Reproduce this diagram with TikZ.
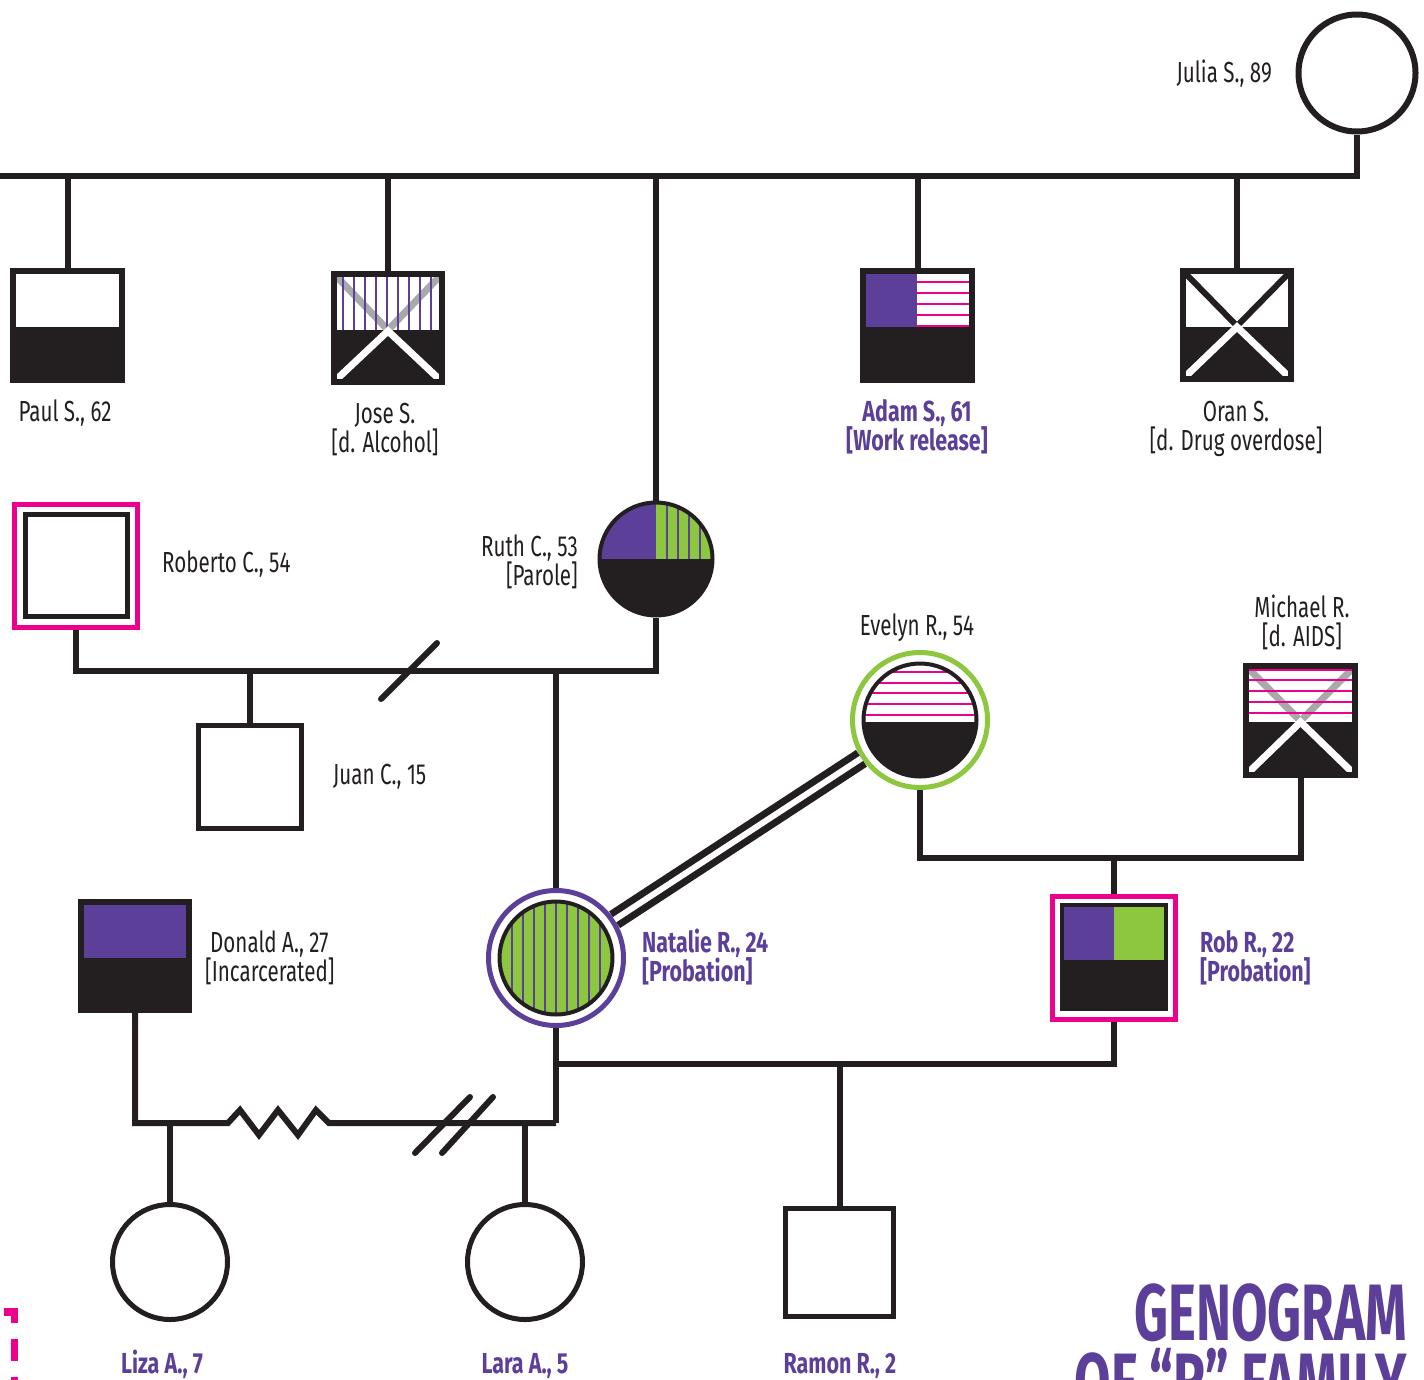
\documentclass[tikz,border=0pt]{standalone}
\usepackage{fontspec}
\setmainfont{Fira Sans}[FakeStretch=0.71, BoldFeatures={FakeStretch=0.74}]
\newfontfamily\titlefont{Fira Sans}[FakeStretch=0.66]
\usetikzlibrary{calc}
\definecolor{gpurple}{HTML}{5B3F99}
\definecolor{ggreen}{HTML}{8DC63F}
\definecolor{gpink}{HTML}{EC008C}
\definecolor{gblack}{HTML}{231F20}
\definecolor{ggrey}{HTML}{A7A9AC}
\begin{document}
\begin{tikzpicture}[x=1pt,y=-1pt,
  link/.style={draw=gblack, line width=6pt},
  sq/.style={rectangle, draw=gblack, line width=6pt, inner sep=0pt, minimum size=109pt},
  thinsq/.style={rectangle, draw=gblack, line width=5pt, inner sep=0pt},
  pinksq/.style={rectangle, draw=gpink, line width=5pt, inner sep=0pt, minimum size=123pt},
  circ/.style={circle, draw=gblack, line width=5pt, inner sep=0pt},
  ring/.style={circle, line width=5pt, inner sep=0pt, minimum size=135pt},
  lbl/.style={font=\fontsize{29}{29}\selectfont, text=gblack, inner sep=0pt},
  plbl/.style={font=\fontsize{29}{29}\selectfont\bfseries, text=gpurple, inner sep=0pt},
  ttl/.style={anchor=base east, inner sep=0pt, text=gpurple, font=\titlefont\fontsize{80}{80}\selectfont\bfseries},
  hatch/.style={line width=2.5pt},
  xline/.style={line width=7pt},
]
\useasboundingbox (0,0) rectangle (1424,1379);
\clip (0,0) rectangle (1424,1379);

% ---------- contents of symbols ----------
% Paul
\fill[gblack] (13,327) rectangle (122,379);
% Jose
\begin{scope}
  \clip (334,274) rectangle (442,330);
  \draw[ggrey, xline] (337,277) -- (388,330) -- (439,277);
  \foreach \x in {343,354,...,432} \draw[gpurple, hatch] (\x,274) -- (\x,330);
\end{scope}
\fill[gblack] (334,330) rectangle (442,382);
\draw[white, xline, line cap=round] (337,379) -- (388,331) -- (439,379);
% Adam
\fill[gpurple] (863,271) rectangle (917,327);
\foreach \y in {282,293,304,315,326} \draw[gpink, hatch] (917,\y) -- (972,\y);
\fill[gblack] (863,327) rectangle (972,380);
% Oran
\begin{scope}
  \clip (1183,271) rectangle (1291,327);
  \draw[gblack, line width=6pt] (1186,274) -- (1237,326) -- (1288,274);
\end{scope}
\fill[gblack] (1183,327) rectangle (1291,379);
\draw[white, xline, line cap=round] (1187,375) -- (1237,327) -- (1287,375);
% Ruth
\begin{scope}
  \clip (656,559) circle (56.5);
  \fill[gpurple] (598,500) rectangle (656,559);
  \fill[ggreen] (656,500) rectangle (716,559);
  \foreach \x in {667,678,689,700} \draw[gpurple, hatch] (\x,500) -- (\x,559);
  \fill[gblack] (598,559) rectangle (716,618);
\end{scope}
% Evelyn
\begin{scope}
  \clip (920,720) circle (56.5);
  \foreach \y in {672,683,693,704,715} \draw[gpink, hatch] (860,\y) -- (980,\y);
  \fill[gblack] (860,722) rectangle (980,780);
\end{scope}
\draw[gblack, line width=4pt] (920,720) circle (56.5);
% Michael
\begin{scope}
  \clip (1246,666) rectangle (1355,722);
  \draw[ggrey, xline] (1249,669) -- (1300.5,721) -- (1352,669);
  \foreach \y in {669.5,680,691,702,713} \draw[gpink, hatch] (1246,\y) -- (1355,\y);
\end{scope}
\fill[gblack] (1246,722) rectangle (1355,775);
\draw[white, xline, line cap=round] (1250,771) -- (1300.5,722) -- (1351,771);
% Roberto inner
\draw[gblack, line width=4.5pt] (25.5,514.5) rectangle (127.5,616.5);
% Natalie
\begin{scope}
  \clip (556,958) circle (56.5);
  \fill[ggreen] (496,898) rectangle (616,1018);
  \foreach \x in {512,523,534,545,556,567,578,589,600} \draw[gpurple, hatch] (\x,898) -- (\x,1018);
\end{scope}
\draw[gblack, line width=4pt] (556,958) circle (56.5);
% Rob
\fill[gpurple] (1062,905) rectangle (1114,960);
\fill[ggreen] (1114,905) rectangle (1166,960);
\fill[gblack] (1062,960) rectangle (1166,1009);
\draw[gblack, line width=4pt] (1062,905) rectangle (1166,1009);
% Donald
\fill[gpurple] (81,902) rectangle (189,958);
\fill[gblack] (81,958) rectangle (189,1010);

% ---------- nodes ----------
\node[circ, line width=6pt, minimum size=117pt] (julia) at (1357,73) {};
\node[sq] (paul) at (67.5,325) {};
\node[sq, minimum size=108pt] (jose) at (388,328) {};
\node[sq] (adam) at (917.5,325.5) {};
\node[sq, minimum size=108pt] (oran) at (1237,325) {};
\node[circle, draw=gblack, line width=4pt, inner sep=0pt, minimum size=113pt] (ruth) at (656,559) {};
\node[pinksq] (roberto) at (76,566) {};
\node[thinsq, minimum size=103pt] (juan) at (250,776.5) {};
\node[ring, draw=ggreen] (evelyn) at (920,720) {};
\node[sq] (michael) at (1300.5,720.5) {};
\node[ring, draw=gpurple] (natalie) at (556,958) {};
\node[pinksq] (rob) at (1114,957.5) {};
\node[sq, minimum size=108pt] (donald) at (135,956) {};
\node[thinsq, minimum size=108pt] (ramon) at (839.5,1262.5) {};
\node[circ, minimum size=115pt] (liza) at (170,1262) {};
\node[circ, minimum size=115pt] (lara) at (525,1262) {};

% ---------- connectors ----------
\coordinate (topL) at (0,176);
\coordinate (m1) at (0,671);
\coordinate (m2) at (0,858);
\coordinate (m3) at (0,1064);
\coordinate (m4) at (0,1123);
\coordinate (div1) at (409,671);
\coordinate (div2a) at (442.5,1125);
\coordinate (div2b) at (467.5,1125);

\draw[link] (topL) -- (topL -| julia.south) -- (julia.south);
\foreach \n in {paul,jose,adam,oran,ruth} \draw[link] (\n.north) -- (\n.north |- topL);

\draw[link] (roberto.south) -- (roberto.south |- m1) -- (ruth.south |- m1) -- (ruth.south);
\draw[link, line cap=round] ([shift={(-28,28)}]div1) -- ([shift={(28,-28)}]div1);
\draw[link] (juan.north) -- (juan.north |- m1);
\draw[link] (natalie.north) -- (natalie.north |- m1);

\draw[draw=gblack, line width=7pt, double=white, double distance=6pt] (natalie) -- (evelyn);

\draw[link] (evelyn.south) -- (evelyn.south |- m2) -- (michael.south |- m2) -- (michael.south);
\draw[link] (rob.north) -- (rob.north |- m2);

\draw[link] (natalie.south) -- (natalie.south |- m4);
\draw[link] (natalie.south |- m3) -- (rob.south |- m3) -- (rob.south);
\draw[link] (ramon.north) -- (ramon.north |- m3);

\draw[link] (donald.south) -- (donald.south |- m4) -- ++(93,0) -- ++(12,-13) -- ++(19,25) -- ++(19,-25) -- ++(20,25) -- ++(18,-25) -- ++(13,13) -- (natalie.south |- m4);
\draw[link, line cap=round] ([shift={(-27.5,28)}]div2a) -- ([shift={(27.5,-28)}]div2a);
\draw[link, line cap=round] ([shift={(-25.5,28)}]div2b) -- ([shift={(25.5,-28)}]div2b);
\draw[link] (liza.north) -- (liza.north |- m4);
\draw[link] (lara.north) -- (lara.north |- m4);

% ---------- labels ----------
\node[lbl, anchor=base east] (tjulia) at (1272,82) {Julia S., 89};
\node[lbl, anchor=base] (tpaul) at (65,421) {Paul S., 62};
\node[lbl, anchor=base] (tjose1) at (385,423) {Jose S.};
\node[lbl, anchor=base] (tjose2) at (385,452) {[d. Alcohol]};
\node[plbl, anchor=base] (tadam1) at (917,421) {Adam S., 61};
\node[plbl, anchor=base] (tadam2) at (917,450) {[Work release]};
\node[lbl, anchor=base] (toran1) at (1236,421) {Oran S.};
\node[lbl, anchor=base] (toran2) at (1236,450) {[d. Drug overdose]};
\node[lbl, anchor=base west] (troberto) at (162,572) {Roberto C., 54};
\node[lbl, anchor=base east] (truth1) at (578,556) {Ruth C., 53};
\node[lbl, anchor=base east] (truth2) at (578,585) {[Parole]};
\node[lbl, anchor=base] (tevelyn) at (917,635) {Evelyn R., 54};
\node[lbl, anchor=base] (tmichael1) at (1302,617) {Michael R.};
\node[lbl, anchor=base] (tmichael2) at (1302,646) {[d. AIDS]};
\node[lbl, anchor=base west] (tjuan) at (333,784) {Juan C., 15};
\node[lbl, anchor=base west] (tdonald1) at (210,952) {Donald A., 27};
\node[lbl, anchor=base west] (tdonald2) at (205,981) {[Incarcerated]};
\node[plbl, anchor=base west] (tnatalie1) at (642,952) {Natalie R., 24};
\node[plbl, anchor=base west] (tnatalie2) at (642,981) {[Probation]};
\node[plbl, anchor=base west] (trob1) at (1200,952) {Rob R., 22};
\node[plbl, anchor=base west] (trob2) at (1200,981) {[Probation]};
\node[plbl, anchor=base] (tliza) at (162,1373) {Liza A., 7};
\node[plbl, anchor=base] (tlara) at (525,1373) {Lara A., 5};
\node[plbl, anchor=base] (tramon) at (840,1373) {Ramon R., 2};

\node[ttl] (title1) at (1407,1340) {GENOGRAM};
\node[ttl] (title2) at (1407,1409) {OF “R” FAMILY};

% pink crop mark
\fill[gpink] (4,1308) rectangle (18,1316);
\fill[gpink] (11,1308) rectangle (18,1323);
\fill[gpink] (11,1339) rectangle (18,1361);
\fill[gpink] (11,1377) rectangle (18,1385);
\end{tikzpicture}
\end{document}
